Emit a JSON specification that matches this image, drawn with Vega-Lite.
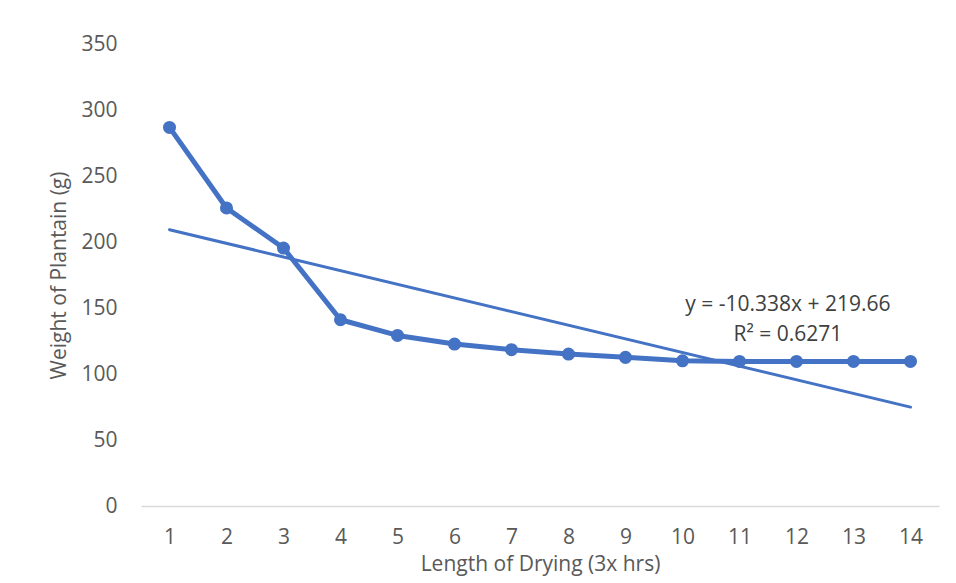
{
  "$schema": "https://vega.github.io/schema/vega-lite/v6.json",
  "width": 798,
  "height": 462,
  "autosize": {"type": "none"},
  "padding": {"left": 141, "top": 44, "right": 17, "bottom": 77},
  "background": "white",
  "config": {
    "view": {"stroke": null},
    "font": "Open Sans",
    "axis": {"labelFont": "Open Sans", "titleFont": "Open Sans", "labelColor": "#595959", "titleColor": "#595959", "labelFontSize": 21, "titleFontSize": 21, "titleFontWeight": "normal", "grid": false, "ticks": false}
  },
  "datasets": {
    "obs": [
      {"t": 1, "w": 286.8}, {"t": 2, "w": 225.8}, {"t": 3, "w": 195.4}, {"t": 4, "w": 141.1},
      {"t": 5, "w": 129.2}, {"t": 6, "w": 122.7}, {"t": 7, "w": 118.4}, {"t": 8, "w": 115.1},
      {"t": 9, "w": 112.6}, {"t": 10, "w": 110.0}, {"t": 11, "w": 109.5}, {"t": 12, "w": 109.5},
      {"t": 13, "w": 109.5}, {"t": 14, "w": 109.5}
    ],
    "trend": [{"t": 1, "w": 209.32}, {"t": 14, "w": 74.93}],
    "notes": [
      {"t": 11.85, "w": 152, "label": "y = -10.338x + 219.66"},
      {"t": 11.85, "w": 129.5, "label": "R² = 0.6271"}
    ]
  },
  "layer": [
    {
      "data": {"name": "trend"},
      "mark": {"type": "line", "color": "#4472C4", "strokeWidth": 3, "strokeCap": "round"},
      "encoding": {
        "x": {"field": "t", "type": "quantitative", "scale": {"domain": [0.5, 14.5], "nice": false, "zero": false},
          "axis": {"values": [1,2,3,4,5,6,7,8,9,10,11,12,13,14], "format": "d", "title": "Length of Drying (3x hrs)", "domain": true, "domainColor": "#D9D9D9", "domainWidth": 1.5, "labelPadding": 20, "titlePadding": 6, "labelFlush": false}},
        "y": {"field": "w", "type": "quantitative", "scale": {"domain": [0, 350], "nice": false},
          "axis": {"values": [0,50,100,150,200,250,300,350], "format": "d", "title": "Weight of Plantain (g)", "domain": false, "labelPadding": 24, "titlePadding": 11}}
      }
    },
    {
      "data": {"name": "obs"},
      "mark": {"type": "line", "color": "#4472C4", "strokeWidth": 5, "strokeJoin": "round", "point": {"filled": true, "size": 170, "color": "#4472C4", "opacity": 1}},
      "encoding": {
        "x": {"field": "t", "type": "quantitative"},
        "y": {"field": "w", "type": "quantitative"}
      }
    },
    {
      "data": {"name": "notes"},
      "mark": {"type": "text", "fontSize": 21, "color": "#404040", "font": "Open Sans", "align": "center", "baseline": "middle"},
      "encoding": {
        "x": {"field": "t", "type": "quantitative"},
        "y": {"field": "w", "type": "quantitative"},
        "text": {"field": "label"}
      }
    }
  ]
}
